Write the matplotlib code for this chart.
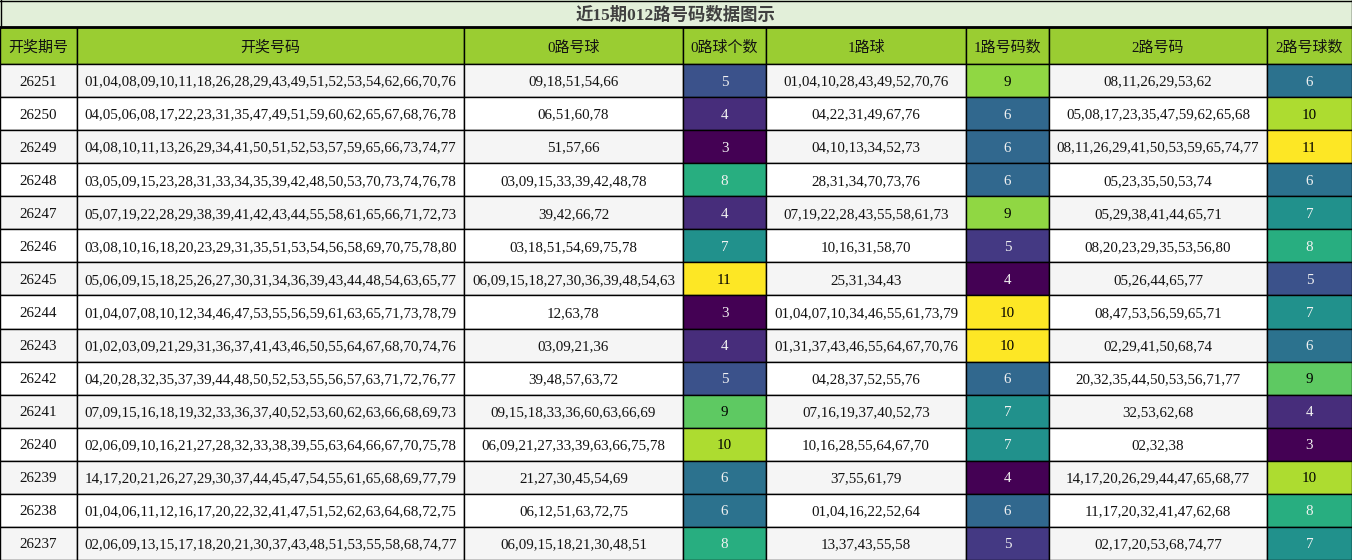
import matplotlib
matplotlib.use('Agg')
import matplotlib.pyplot as plt
from matplotlib.patches import Rectangle
import numpy as np

title = "近15期012路号码数据图示"
headers = ["开奖期号", "开奖号码", "0路号球", "0路球个数", "1路球", "1路号码数", "2路号码", "2路号球数"]

periods = ["26251", "26250", "26249", "26248", "26247", "26246", "26245", "26244",
           "26243", "26242", "26241", "26240", "26239", "26238", "26237"]

draws = [
    "01,04,08,09,10,11,18,26,28,29,43,49,51,52,53,54,62,66,70,76",
    "04,05,06,08,17,22,23,31,35,47,49,51,59,60,62,65,67,68,76,78",
    "04,08,10,11,13,26,29,34,41,50,51,52,53,57,59,65,66,73,74,77",
    "03,05,09,15,23,28,31,33,34,35,39,42,48,50,53,70,73,74,76,78",
    "05,07,19,22,28,29,38,39,41,42,43,44,55,58,61,65,66,71,72,73",
    "03,08,10,16,18,20,23,29,31,35,51,53,54,56,58,69,70,75,78,80",
    "05,06,09,15,18,25,26,27,30,31,34,36,39,43,44,48,54,63,65,77",
    "01,04,07,08,10,12,34,46,47,53,55,56,59,61,63,65,71,73,78,79",
    "01,02,03,09,21,29,31,36,37,41,43,46,50,55,64,67,68,70,74,76",
    "04,20,28,32,35,37,39,44,48,50,52,53,55,56,57,63,71,72,76,77",
    "07,09,15,16,18,19,32,33,36,37,40,52,53,60,62,63,66,68,69,73",
    "02,06,09,10,16,21,27,28,32,33,38,39,55,63,64,66,67,70,75,78",
    "14,17,20,21,26,27,29,30,37,44,45,47,54,55,61,65,68,69,77,79",
    "01,04,06,11,12,16,17,20,22,32,41,47,51,52,62,63,64,68,72,75",
    "02,06,09,13,15,17,18,20,21,30,37,43,48,51,53,55,58,68,74,77",
]

road0 = [
    "09,18,51,54,66", "06,51,60,78", "51,57,66", "03,09,15,33,39,42,48,78",
    "39,42,66,72", "03,18,51,54,69,75,78", "06,09,15,18,27,30,36,39,48,54,63",
    "12,63,78", "03,09,21,36", "39,48,57,63,72", "09,15,18,33,36,60,63,66,69",
    "06,09,21,27,33,39,63,66,75,78", "21,27,30,45,54,69", "06,12,51,63,72,75",
    "06,09,15,18,21,30,48,51",
]
count0 = [5, 4, 3, 8, 4, 7, 11, 3, 4, 5, 9, 10, 6, 6, 8]

road1 = [
    "01,04,10,28,43,49,52,70,76", "04,22,31,49,67,76", "04,10,13,34,52,73",
    "28,31,34,70,73,76", "07,19,22,28,43,55,58,61,73", "10,16,31,58,70",
    "25,31,34,43", "01,04,07,10,34,46,55,61,73,79", "01,31,37,43,46,55,64,67,70,76",
    "04,28,37,52,55,76", "07,16,19,37,40,52,73", "10,16,28,55,64,67,70",
    "37,55,61,79", "01,04,16,22,52,64", "13,37,43,55,58",
]
count1 = [9, 6, 6, 6, 9, 5, 4, 10, 10, 6, 7, 7, 4, 6, 5]

road2 = [
    "08,11,26,29,53,62", "05,08,17,23,35,47,59,62,65,68",
    "08,11,26,29,41,50,53,59,65,74,77", "05,23,35,50,53,74", "05,29,38,41,44,65,71",
    "08,20,23,29,35,53,56,80", "05,26,44,65,77", "08,47,53,56,59,65,71",
    "02,29,41,50,68,74", "20,32,35,44,50,53,56,71,77", "32,53,62,68", "02,32,38",
    "14,17,20,26,29,44,47,65,68,77", "11,17,20,32,41,47,62,68", "02,17,20,53,68,74,77",
]
count2 = [6, 10, 11, 6, 7, 8, 5, 7, 6, 9, 4, 3, 10, 8, 7]

# ---- layout (pixels) ----
W, H = 1352, 560
col_edges = [0, 77, 464, 683, 766, 966, 1049, 1267, 1352]
title_h = 27
header_h = 37
n_rows = len(periods)
row_h = (H - title_h - header_h) / n_rows

serif = ['Liberation Serif', 'Noto Sans CJK SC']

fig = plt.figure(figsize=(W / 100, H / 100), dpi=100)
ax = fig.add_axes([0, 0, 1, 1])
ax.set_xlim(0, W)
ax.set_ylim(H, 0)
ax.axis('off')

cmap = plt.get_cmap('viridis')

# title
ax.add_patch(Rectangle((0, 0), W, title_h, facecolor='#e2efd9', edgecolor='none'))
ax.text(W / 2, title_h / 2 + 1.5, title, ha='center', va='center', fontsize=12.5,
        fontweight='bold', color='#404040', family=serif)

# header
y0 = title_h
for j, h in enumerate(headers):
    x0, x1 = col_edges[j], col_edges[j + 1]
    ax.add_patch(Rectangle((x0, y0), x1 - x0, header_h, facecolor='#9acd32',
                           edgecolor='black', linewidth=1))
    ax.text((x0 + x1) / 2, y0 + header_h / 2 + 2.5, h, ha='center', va='center',
            fontsize=10.8, color='#111111', family=serif)

count_cols = {3: count0, 5: count1, 7: count2}
text_cols = {0: periods, 1: draws, 2: road0, 4: road1, 6: road2}

for i in range(n_rows):
    ry = title_h + header_h + i * row_h
    bg = '#f5f5f5' if i % 2 == 0 else '#ffffff'
    for j in range(len(headers)):
        x0, x1 = col_edges[j], col_edges[j + 1]
        if j in count_cols:
            vals = count_cols[j]
            vmin, vmax = min(vals), max(vals)
            t = (vals[i] - vmin) / (vmax - vmin)
            fc = cmap(t)
            txt = str(vals[i])
            tc = 'black' if t > 0.7 else '#f2f2f2'
        else:
            fc = bg
            txt = text_cols[j][i]
            tc = '#111111'
        ax.add_patch(Rectangle((x0, ry), x1 - x0, row_h, facecolor=fc,
                               edgecolor='black', linewidth=1))
        ax.text((x0 + x1) / 2, ry + row_h / 2 + 1.5, txt, ha='center', va='center',
                fontsize=10.8, color=tc, family=serif)

# title frame
ax.plot([0, W], [title_h, title_h], color='black', linewidth=2)
ax.plot([0, W], [0.5, 0.5], color='black', linewidth=1)
ax.plot([0.5, 0.5], [0, title_h], color='black', linewidth=1)
ax.plot([W - 0.5, W - 0.5], [0, title_h], color='black', linewidth=1)

fig.savefig('out.png', dpi=100)
